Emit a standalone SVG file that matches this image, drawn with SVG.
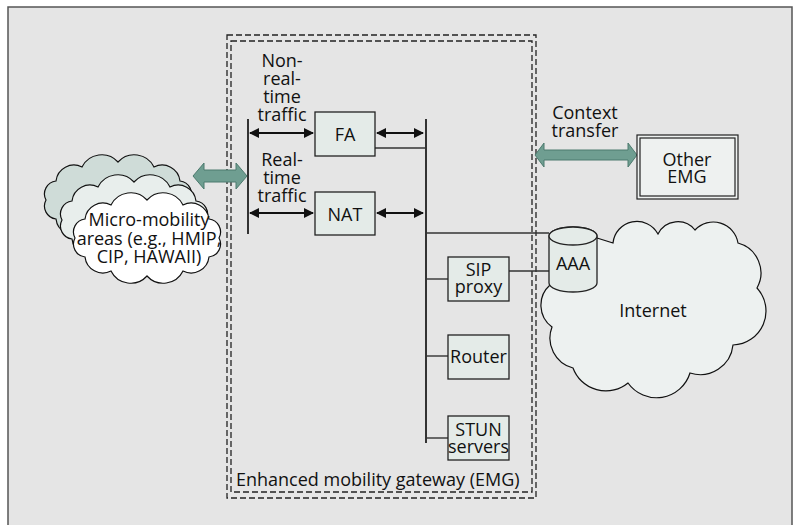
<svg xmlns="http://www.w3.org/2000/svg" width="795" height="525" viewBox="0 0 795 525">
  <style>
    text { font-family: "Open Sans", "Noto Sans", "DejaVu Sans", sans-serif; font-size: 18px; fill: #111; }
    .c { text-anchor: middle; }
    .box { fill: #e4ebe8; stroke: #222; stroke-width: 1.3; }
    .bus { stroke: #333; stroke-width: 2; fill: none; }
    .wire { stroke: #333; stroke-width: 1.4; fill: none; }
    .arr { stroke: #111; stroke-width: 2; fill: none; marker-start: url(#head); marker-end: url(#head); }
    .dash { fill: none; stroke: #222; stroke-width: 1.3; stroke-dasharray: 6 3; }
    .fat { fill: #6f9e91; stroke: #4d7a6e; stroke-width: 1; }
    .cloud { stroke: #111; stroke-width: 1.2; }
  </style>
  <defs>
    <marker id="head" viewBox="0 0 10 10" refX="9" refY="5" markerWidth="5" markerHeight="5" markerUnits="strokeWidth" orient="auto-start-reverse">
      <path d="M0,0 L10,5 L0,10 Z" fill="#111"/>
    </marker>
    <!-- puffy outline shared by the three micro-mobility clouds -->
    <path id="puff" d="M75,238 A13,13 0 0 1 85,219 A18,18 0 0 1 111,205 A22,22 0 0 1 147,200 A22,22 0 0 1 183,205 A18,18 0 0 1 209,219 A13,13 0 0 1 219,238 A13,13 0 0 1 209,257 A18,18 0 0 1 183,271 A22,22 0 0 1 147,276 A22,22 0 0 1 111,271 A18,18 0 0 1 85,257 A13,13 0 0 1 75,238 Z"/>
  </defs>

  <!-- frame -->
  <rect x="8" y="7" width="784" height="530" fill="#e5e5e5" stroke="#555" stroke-width="1.5"/>

  <!-- enhanced mobility gateway boundary -->
  <g id="emg">
    <rect x="231" y="41" width="301" height="451" fill="#edf0ef" class="dash"/>
    <rect x="227" y="35" width="309" height="463" class="dash"/>
    <text x="236" y="486">Enhanced mobility gateway (EMG)</text>
  </g>

  <!-- Internet cloud -->
  <g id="internet">
    <path class="cloud" fill="#edf1f0" d="M597,238 L613,243 A24,24 0 0 1 658,234 A22,22 0 0 1 695,230 A25,25 0 0 1 738,243 A31,31 0 0 1 757,288 A34,34 0 0 1 733,345 A33,33 0 0 1 690,373 A35,35 0 0 1 628,383 A35,35 0 0 1 573,368 A31,31 0 0 1 552,327 A27,27 0 0 1 550,285 Z"/>
    <text class="c" x="653" y="317">Internet</text>
  </g>

  <!-- micro-mobility areas -->
  <g id="micro">
    <use href="#puff" class="cloud" fill="#cfdcd8" transform="translate(-29,-38)"/>
    <use href="#puff" class="cloud" fill="#e8eeec" transform="translate(-13,-18)"/>
    <use href="#puff" class="cloud" fill="#ffffff"/>
    <text class="c" x="149" y="226">Micro-mobility</text>
    <text class="c" x="149" y="245">areas (e.g., HMIP,</text>
    <text class="c" x="149" y="263">CIP, HAWAII)</text>
  </g>

  <!-- connectors -->
  <g id="connectors">
    <line class="bus" x1="248" y1="119" x2="248" y2="234"/>
    <line class="bus" x1="426" y1="119" x2="426" y2="443"/>
    <line class="arr" x1="250" y1="133" x2="313" y2="133"/>
    <line class="arr" x1="250" y1="213" x2="313" y2="213"/>
    <line class="arr" x1="377" y1="133" x2="423" y2="133"/>
    <line class="arr" x1="377" y1="213" x2="423" y2="213"/>
    <line class="wire" x1="375" y1="148" x2="426" y2="148"/>
    <line class="wire" x1="426" y1="233" x2="549" y2="233"/>
    <line class="wire" x1="509" y1="271" x2="549" y2="271"/>
    <line class="wire" x1="426" y1="279" x2="448" y2="279"/>
    <line class="wire" x1="426" y1="356" x2="448" y2="356"/>
    <line class="wire" x1="426" y1="438" x2="448" y2="438"/>
    <!-- access link into the gateway -->
    <path class="fat" d="M193,176 L204,163 L204,170 L236,170 L236,163 L247,176 L236,189 L236,182 L204,182 L204,189 Z"/>
    <!-- context transfer link -->
    <path class="fat" d="M535,155 L544,143 L544,150 L628,150 L628,143 L637,155 L628,167 L628,160 L544,160 L544,167 Z"/>
  </g>

  <!-- traffic labels -->
  <g id="labels">
    <text class="c" x="282" y="67">Non-</text>
    <text class="c" x="282" y="85">real-</text>
    <text class="c" x="282" y="103">time</text>
    <text class="c" x="282" y="121">traffic</text>
    <text class="c" x="282" y="166">Real-</text>
    <text class="c" x="282" y="184">time</text>
    <text class="c" x="282" y="202">traffic</text>
    <text class="c" x="585" y="119">Context</text>
    <text class="c" x="585" y="137">transfer</text>
  </g>

  <g id="fa">
    <rect class="box" x="315" y="112" width="60" height="44"/>
    <text class="c" x="345" y="141">FA</text>
  </g>
  <g id="nat">
    <rect class="box" x="315" y="192" width="60" height="43"/>
    <text class="c" x="345" y="221">NAT</text>
  </g>
  <g id="sip">
    <rect class="box" x="448" y="257" width="61" height="44"/>
    <text class="c" x="478.5" y="276">SIP</text>
    <text class="c" x="478.5" y="293">proxy</text>
  </g>
  <g id="router">
    <rect class="box" x="448" y="335" width="61" height="44"/>
    <text class="c" x="478.5" y="363">Router</text>
  </g>
  <g id="stun">
    <rect class="box" x="448" y="416" width="61" height="44"/>
    <text class="c" x="478.5" y="436">STUN</text>
    <text class="c" x="478.5" y="453">servers</text>
  </g>

  <g id="aaa">
    <path class="box" d="M549,236 V283 A24,9 0 0 0 597,283 V236 A24,9 0 0 0 549,236 Z"/>
    <ellipse class="box" cx="573" cy="236" rx="24" ry="9"/>
    <text class="c" x="573" y="270">AAA</text>
  </g>

  <g id="other-emg">
    <rect x="637" y="135" width="101" height="64" fill="#eef1f0" stroke="#222" stroke-width="1.2"/>
    <rect x="640" y="138" width="95" height="58" fill="none" stroke="#222" stroke-width="1.2"/>
    <text class="c" x="687" y="166">Other</text>
    <text class="c" x="687" y="183">EMG</text>
  </g>
</svg>
